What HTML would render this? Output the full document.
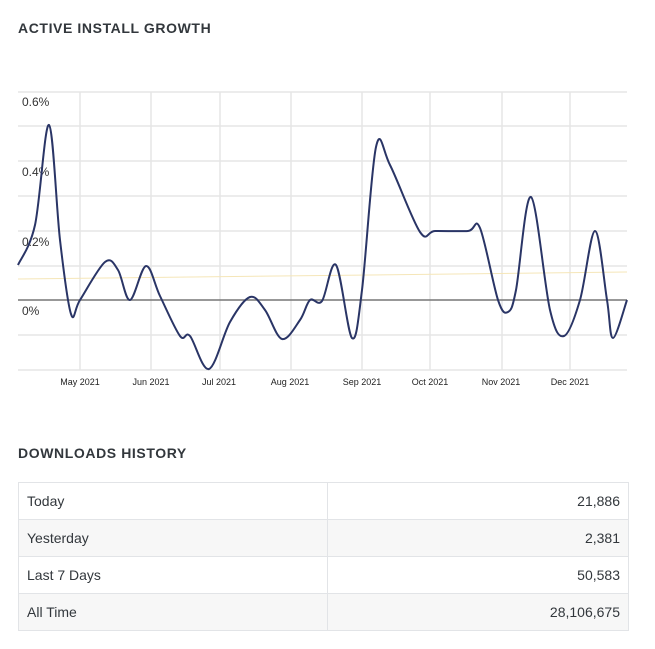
<!DOCTYPE html>
<html><head><meta charset="utf-8"><style>
body{margin:0;background:#fff;width:655px;height:649px;font-family:"Liberation Sans",sans-serif;color:#32373c;position:relative;overflow:hidden}
h2{position:absolute;left:18px;margin:0;font-size:14px;font-weight:bold;letter-spacing:0.6px;color:#32373c}
table{position:absolute;left:18px;top:482px;width:611px;border-collapse:collapse;font-size:14px;table-layout:fixed}
td{border:1px solid #e2e4e7;height:37px;padding:0 8px;box-sizing:border-box}
tr:nth-child(even) td{background:#f7f7f7}
td:last-child{text-align:right}
</style></head><body>
<h2 style="top:20px">ACTIVE INSTALL GROWTH</h2>
<svg width="655" height="400" style="position:absolute;left:0;top:0" font-family="Liberation Sans, sans-serif">
<g stroke="#e5e5e5" stroke-width="1.5">
<line x1="18" y1="92" x2="627" y2="92"/><line x1="18" y1="126" x2="627" y2="126"/><line x1="18" y1="161" x2="627" y2="161"/><line x1="18" y1="196" x2="627" y2="196"/><line x1="18" y1="231" x2="627" y2="231"/><line x1="18" y1="266" x2="627" y2="266"/><line x1="18" y1="335" x2="627" y2="335"/><line x1="18" y1="370" x2="627" y2="370"/>
<line x1="80" y1="92" x2="80" y2="370"/><line x1="151" y1="92" x2="151" y2="370"/><line x1="220" y1="92" x2="220" y2="370"/><line x1="291" y1="92" x2="291" y2="370"/><line x1="362" y1="92" x2="362" y2="370"/><line x1="430" y1="92" x2="430" y2="370"/><line x1="502" y1="92" x2="502" y2="370"/><line x1="570" y1="92" x2="570" y2="370"/>
</g>
<line x1="18" y1="279" x2="627" y2="272" stroke="#f5e6b8" stroke-width="1"/>
<line x1="18" y1="300" x2="627" y2="300" stroke="#777" stroke-width="1.5"/>
<g font-size="12" fill="#333">
<text x="22" y="106">0.6%</text><text x="22" y="176">0.4%</text><text x="22" y="246">0.2%</text><text x="22" y="315">0%</text>
</g>
<g font-size="9" fill="#222" text-anchor="middle">
<text x="80" y="385">May 2021</text><text x="151" y="385">Jun 2021</text><text x="219" y="385">Jul 2021</text><text x="290" y="385">Aug 2021</text><text x="362" y="385">Sep 2021</text><text x="430" y="385">Oct 2021</text><text x="501" y="385">Nov 2021</text><text x="570" y="385">Dec 2021</text>
</g>
<path id="p" fill="none" stroke="#2a3566" stroke-width="2"/>
</svg>
<h2 style="top:445px">DOWNLOADS HISTORY</h2>
<table>
<colgroup><col style="width:309px"><col></colgroup>
<tr><td>Today</td><td>21,886</td></tr>
<tr><td>Yesterday</td><td>2,381</td></tr>
<tr><td>Last 7 Days</td><td>50,583</td></tr>
<tr><td>All Time</td><td>28,106,675</td></tr>
</table>
<script>
var P=[[18,265],[35,225],[49,125],[60,240],[71,314],[80,300],[105,262],[118,270],[130,300],[146,266],[160,296],[180,336],[190,336],[209,369],[230,322],[250,297],[265,310],[282,339],[300,320],[310,300],[322,301],[336,265],[352,338],[362,290],[376,147],[390,165],[420,232],[435,231],[468,231],[480,228],[498,300],[508,312],[516,290],[531,197],[550,310],[564,336],[580,300],[595,231],[607,300],[613,338],[627,300]];
var d="M"+P[0];
for(var i=0;i<P.length-1;i++){var a=P[i-1]||P[i],b=P[i],c=P[i+1],e=P[i+2]||c;
d+=" C"+(b[0]+(c[0]-a[0])/6)+","+(b[1]+(c[1]-a[1])/6)+" "+(c[0]-(e[0]-b[0])/6)+","+(c[1]-(e[1]-b[1])/6)+" "+c[0]+","+c[1];}
document.getElementById("p").setAttribute("d",d);
</script>
</body></html>
